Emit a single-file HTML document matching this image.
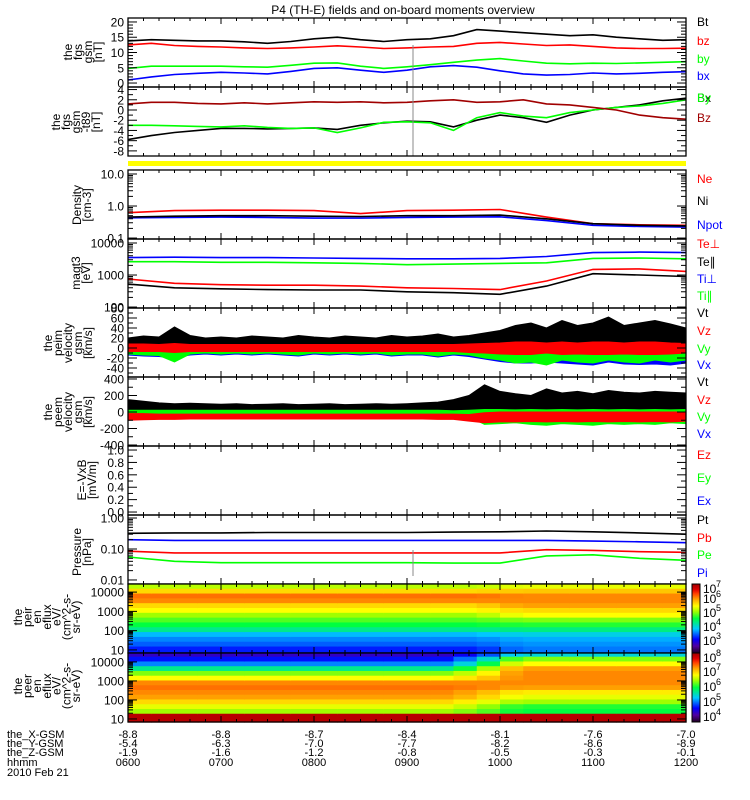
<!DOCTYPE html>
<html><head><meta charset="utf-8"><style>
html,body{margin:0;padding:0;background:#fff;}
svg{display:block;font-family:"Liberation Sans",sans-serif;}
</style></head><body>
<svg id="fig" width="750" height="800" viewBox="0 0 750 800" xmlns="http://www.w3.org/2000/svg">
<defs>
<linearGradient id="cbar" x1="0" y1="1" x2="0" y2="0">
<stop offset="0" stop-color="#200020"/><stop offset="0.1" stop-color="#5000a0"/><stop offset="0.2" stop-color="#0000ff"/><stop offset="0.35" stop-color="#00c8ff"/><stop offset="0.5" stop-color="#00ff40"/><stop offset="0.6" stop-color="#a0ff00"/><stop offset="0.68" stop-color="#ffff00"/><stop offset="0.78" stop-color="#ffa000"/><stop offset="0.86" stop-color="#ff4000"/><stop offset="0.92" stop-color="#e00000"/><stop offset="1" stop-color="#a00000"/>
</linearGradient>
</defs>
<text x="403" y="14" text-anchor="middle" font-size="12">P4 (TH-E) fields and on-board moments overview</text>
<g id="layer"></g>
</svg>
<script>
// ---------- data ----------
const t15 = [6,6.25,6.5,6.75,7,7.25,7.5,7.75,8,8.25,8.5,8.75,9,9.25,9.5,9.75,10,10.25,10.5,10.75,11,11.25,11.5,11.75,12];
const t30 = [6,6.5,7,7.5,8,8.5,9,9.5,10,10.5,11,11.5,12];
const t10 = [6,6.1667,6.3333,6.5,6.6667,6.8333,7,7.1667,7.3333,7.5,7.6667,7.8333,8,8.1667,8.3333,8.5,8.6667,8.8333,9,9.1667,9.3333,9.5,9.6667,9.8333,10,10.1667,10.3333,10.5,10.6667,10.8333,11,11.1667,11.3333,11.5,11.6667,11.8333,12];
// panel 1 fgs gsm
const fgsBt = [13.8,14.2,14,13.8,13.8,13.5,13,13.6,14.5,15,14.2,13.6,14.2,14.5,15.5,17.5,17,16.5,16,15.5,15.8,15,14.5,14,14.2];
const fgsBz = [12.5,13,12.3,12,11.8,11.5,11.3,11.5,11.8,12.2,11.8,11.3,11.5,11.8,12,13,13.3,12.8,12.3,12.5,12,11.5,11.3,11.3,11.4];
const fgsBy = [4.8,5.5,5.5,5.5,5.5,5.3,5.2,5.8,6.5,6.6,5.5,4.8,5.3,6,6.8,7.5,8,7.2,6.5,6.3,6.5,6.4,6.6,6.8,7];
const fgsBx = [1,2,2.8,3.2,3.5,3.3,3,3.8,4.8,5,4.2,3.5,4.2,5.3,5.7,5.2,4,3,2.6,2.8,3.3,3,3.2,3.5,3.7];
// panel 2 fgs - t89
const dBz = [1.2,1.5,1.5,1.3,1.2,1.4,1.2,1.4,1.6,1.5,1.6,1.4,1.5,1.8,2,1.5,1.6,2,1.2,1,0.5,0,-1,-1.5,-1.8];
const dBy = [-3,-3,-3.1,-3.2,-3.3,-3.1,-3.4,-3.6,-3.5,-4.4,-3.5,-2.4,-2.3,-2.5,-4,-1.5,-0.5,-1.2,-1.5,-0.5,0,0.5,0.8,1.3,2];
const dBx = [-5.8,-5,-4.4,-4,-3.6,-3.6,-3.7,-3.6,-3.5,-3.8,-3,-2.5,-2.2,-2.3,-3.3,-2,-1,-1.5,-2.4,-1,0,0.5,1,1.8,2.3];
// panel 3 density
const dnNe = [0.62,0.72,0.74,0.74,0.72,0.58,0.72,0.74,0.78,0.45,0.28,0.26,0.25];
const dnNi = [0.45,0.48,0.5,0.5,0.48,0.47,0.5,0.5,0.52,0.4,0.28,0.25,0.24];
const dnNpot = [0.43,0.44,0.45,0.44,0.42,0.42,0.44,0.45,0.46,0.35,0.25,0.23,0.22];
// panel 4 temperatures
const tmTiPerp = [3500,3600,3500,3500,3400,3300,3200,3200,3300,3800,5000,5200,5000];
const tmTiPar = [2600,2600,2500,2500,2400,2300,2100,2200,2300,2400,3300,3400,3200];
const tmTePerp = [750,550,500,480,480,450,400,380,350,650,1500,1550,1300];
const tmTePar = [520,400,370,350,340,340,300,280,250,450,1100,1000,900];
// panel 5 peim velocity envelopes (km/s)
const viVtTop = [20,24,22,42,25,20,22,20,24,22,20,25,22,20,24,22,20,25,22,24,28,22,25,30,35,45,50,40,55,45,50,62,45,50,55,48,40];
const viRedHi = [8,8,7,9,7,7,7,7,7,7,7,7,7,7,7,7,7,7,7,7,7,7,8,9,10,12,12,10,12,10,12,12,10,12,12,10,9];
const viRedLo = [-7,-7,-7,-9,-7,-7,-7,-7,-7,-7,-7,-7,-7,-7,-7,-7,-7,-7,-7,-7,-7,-7,-9,-10,-12,-13,-13,-10,-13,-12,-13,-13,-12,-13,-13,-12,-10];
const viGreenLo = [-12,-14,-15,-28,-12,-10,-12,-10,-12,-10,-12,-14,-10,-12,-10,-12,-10,-14,-12,-12,-16,-12,-14,-20,-24,-30,-28,-34,-24,-28,-30,-24,-28,-30,-24,-28,-24];
const viBlueLo = [-14,-16,-17,-20,-14,-12,-14,-12,-14,-12,-14,-16,-12,-14,-12,-14,-12,-16,-14,-14,-18,-14,-17,-22,-27,-30,-30,-28,-30,-32,-34,-28,-32,-33,-32,-34,-30];
// panel 6 peem velocity envelopes (km/s)
const veVtTop = [150,130,110,100,105,100,95,100,90,95,100,90,95,100,90,95,100,95,100,110,120,150,200,330,250,220,200,280,230,250,220,260,240,230,250,240,230];
const veRedHi = [-20,-20,-25,-25,-25,-25,-25,-25,-25,-25,-25,-25,-25,-25,-25,-25,-25,-25,-25,-25,-25,-25,-30,-10,0,0,0,0,0,0,0,0,0,0,0,0,0];
const veRedLo = [-100,-95,-90,-90,-85,-85,-85,-85,-85,-85,-85,-85,-85,-85,-85,-85,-85,-85,-85,-85,-90,-90,-110,-130,-120,-120,-115,-120,-115,-120,-115,-120,-115,-120,-115,-120,-110];
const veGreenHi = [20,20,20,20,20,20,20,20,20,20,20,20,20,20,20,20,20,20,20,20,20,15,20,30,30,25,30,25,30,25,30,25,30,25,30,25,30];
const veGreenLo = [-20,-20,-20,-20,-20,-20,-20,-20,-20,-20,-20,-20,-20,-20,-20,-20,-20,-20,-20,-20,-20,-20,-60,-150,-140,-130,-150,-160,-140,-150,-160,-140,-150,-140,-150,-130,-140];
// panel 8 pressure
const prPt = [0.32,0.33,0.33,0.34,0.34,0.34,0.34,0.35,0.36,0.38,0.36,0.33,0.3];
const prPi = [0.2,0.19,0.19,0.19,0.19,0.19,0.19,0.19,0.19,0.19,0.18,0.17,0.16];
const prPb = [0.085,0.075,0.075,0.075,0.075,0.075,0.075,0.075,0.075,0.095,0.09,0.082,0.078];
const prPe = [0.055,0.04,0.036,0.036,0.036,0.036,0.036,0.035,0.035,0.06,0.065,0.05,0.043];
// spectrograms (normalized log eflux 0..1)
const ionLogE = [4.3,4.05,3.8,3.55,3.3,3.05,2.8,2.55,2.3,2.05,1.8,1.55,1.3,1.05];
const ionEarly = [0.62,0.72,0.82,0.8,0.72,0.68,0.6,0.55,0.5,0.44,0.34,0.3,0.27,0.22];
const ionLate = [0.66,0.74,0.8,0.8,0.78,0.72,0.68,0.58,0.52,0.45,0.37,0.33,0.31,0.29];
const ionMix = [0,0,0,0,0,0,0,0,0,0,0,0,0,0,0,0.3,0.8,1,1,1,1,1,1,1];
const eleLogE = [4.4,4.15,3.9,3.65,3.4,3.15,2.9,2.65,2.4,2.15,1.9,1.65,1.4,1.15,0.9];
const eleEarly = [0.14,0.21,0.3,0.44,0.58,0.68,0.8,0.82,0.8,0.78,0.72,0.66,0.6,0.97,0.97];
const eleLate = [0.38,0.58,0.68,0.78,0.8,0.8,0.8,0.78,0.7,0.66,0.6,0.52,0.5,0.97,0.97];
const eleMix = [0,0,0,0,0,0,0,0,0,0,0,0,0,0,0.2,0.5,0.9,1,1,1,1,1,1,1];
// bottom orbit labels
const hhmm = ["0600","0700","0800","0900","1000","1100","1200"];
const posX = ["-8.8","-8.8","-8.7","-8.4","-8.1","-7.6","-7.0"];
const posY = ["-5.4","-6.3","-7.0","-7.7","-8.2","-8.6","-8.9"];
const posZ = ["-1.9","-1.6","-1.2","-0.8","-0.5","-0.3","-0.1"];

// ---------- helpers ----------
const NS="http://www.w3.org/2000/svg";
const L=document.getElementById('layer');
const X0=128,X1=686;
function xs(t){return X0+(t-6)/6*(X1-X0);}
function mk(tag,attrs,parent){const e=document.createElementNS(NS,tag);for(const k in attrs)e.setAttribute(k,attrs[k]);(parent||L).appendChild(e);return e;}
function lin(top,bot,min,max){return v=>bot-(v-min)/(max-min)*(bot-top);}
function lg(top,bot,min,max){return v=>bot-(Math.log10(v)-min)/(max-min)*(bot-top);}
const cstops=[[0,[32,0,32]],[0.1,[80,0,160]],[0.2,[0,0,255]],[0.35,[0,200,255]],[0.5,[0,255,64]],[0.6,[160,255,0]],[0.68,[255,255,0]],[0.78,[255,160,0]],[0.86,[255,64,0]],[0.92,[224,0,0]],[1,[160,0,0]]];
function cmap(v){v=Math.max(0,Math.min(1,v));for(let i=1;i<cstops.length;i++){if(v<=cstops[i][0]){const a=cstops[i-1],b=cstops[i],f=(v-a[0])/(b[0]-a[0]);const c=a[1].map((x,j)=>Math.round(x+(b[1][j]-x)*f));return 'rgb('+c.join(',')+')';}}return 'rgb(160,0,0)';}

function line(ts,vals,ym,color,name,w){
  const p=ts.map((t,i)=>xs(t).toFixed(1)+','+ym(vals[i]).toFixed(1)).join(' ');
  const e=mk('polyline',{points:p,fill:'none',stroke:color,'stroke-width':w||1.6});
  
  
}
function band(ts,hi,lo,ym,color,name){
  const up=ts.map((t,i)=>xs(t).toFixed(1)+','+ym(hi[i]).toFixed(1));
  const dn=ts.map((t,i)=>xs(t).toFixed(1)+','+ym(lo[i]).toFixed(1)).reverse();
  const e=mk('polygon',{points:up.concat(dn).join(' '),fill:color,stroke:color,'stroke-width':1});
  
  
}
function zeros(n,v){return Array(n).fill(v);}

function frame(top,bot,name){
  const g=mk('g',{});
  
  
  mk('rect',{x:X0,y:top,width:X1-X0,height:bot-top,fill:'none',stroke:'#000','stroke-width':1.3},g);
  for(let m=0;m<=36;m++){
    const x=X0+m*(X1-X0)/36,len=(m%6==0)?6:3;
    mk('line',{x1:x,y1:top,x2:x,y2:top+len,stroke:'#000'},g);
    mk('line',{x1:x,y1:bot,x2:x,y2:bot-len,stroke:'#000'},g);
  }
  return g;
}
function yTicks(g,ym,ticks,labels,minor){
  ticks.forEach((v,i)=>{
    const y=ym(v);
    mk('line',{x1:X0,y1:y,x2:X0+9,y2:y,stroke:'#000'},g);
    mk('line',{x1:X1,y1:y,x2:X1-9,y2:y,stroke:'#000'},g);
    const t=mk('text',{x:124,y:y+4.5,'text-anchor':'end','font-size':12},g);t.textContent=labels[i];
  });
  (minor||[]).forEach(v=>{const y=ym(v);
    mk('line',{x1:X0,y1:y,x2:X0+5,y2:y,stroke:'#000'},g);
    mk('line',{x1:X1,y1:y,x2:X1-5,y2:y,stroke:'#000'},g);});
}
function logMinor(a,b){const r=[];for(let d=a;d<b;d++)for(let k=2;k<10;k++)r.push(k*Math.pow(10,d));return r;}
function ytitle(lines,cy,lastX,sp,name){
  const g=mk('g',{});
  
  
  lines.forEach((s,i)=>{const x=lastX-(lines.length-1-i)*sp;
    const t=mk('text',{x:x,y:cy,'text-anchor':'middle','font-size':12,transform:'rotate(-90 '+x+' '+cy+')'},g);t.textContent=s;});
}
function legend(txt,y,color,name){
  const t=mk('text',{x:697,y:y+4,'font-size':12,fill:color});t.textContent=txt;
  
  
}

// ---------- panel 1 ----------
let ym=lin(18,87,-1.3,21.3);
line(t15,fgsBt,ym,'#000','series-bt');line(t15,fgsBz,ym,'#ff0000','series-bz');line(t15,fgsBy,ym,'#00ff00','series-by');line(t15,fgsBx,ym,'#0000ff','series-bx');
let g=frame(18,87,'panel-fgs-gsm');yTicks(g,ym,[0,5,10,15,20],['0','5','10','15','20'],[1,2,3,4,6,7,8,9,11,12,13,14,16,17,18,19]);
ytitle(['the','fgs','gsm','[nT]'],52,102,10,'y-title-fgs');
legend('Bt',22,'#000','legend-bt');legend('bz',41,'#ff0000','legend-bz');legend('by',59,'#00ff00','legend-by');legend('bx',76,'#0000ff','legend-bx');
// panel 2
ym=lin(87,156,-9,4.5);
line(t15,dBx,ym,'#000','series-dbx');line(t15,dBy,ym,'#00ff00','series-dby');line(t15,dBz,ym,'#a00000','series-dbz');
mk('line',{x1:413,y1:45,x2:413,y2:156,stroke:'#888','stroke-width':1});
g=frame(87,156,'panel-fgs-t89');yTicks(g,ym,[-8,-6,-4,-2,0,2,4],['-8','-6','-4','-2','0','2','4'],[-7,-5,-3,-1,1,3]);
ytitle(['the','fgs','gsm','-t89','[nT]'],122,100,10,'y-title-t89');
legend('Bx',98,'#000','legend-bx-t89');legend('By',98,'#00ff00','legend-by-t89');legend('Bz',118,'#a00000','legend-bz-t89');
// yellow bar
const yb=mk('rect',{x:X0,y:161,width:X1-X0,height:5,fill:'#ffff00'});

// panel 3
ym=lg(170,239,-1.03,1.125);
line(t30,dnNe,ym,'#ff0000','series-ne');line(t30,dnNpot,ym,'#0000ff','series-npot');line(t30,dnNi,ym,'#000','series-ni');
g=frame(170,239,'panel-density');yTicks(g,ym,[0.1,1,10],['0.1','1.0','10.0'],logMinor(-1,1));
ytitle(['Density','[cm-3]'],205,91,10,'y-title-density');
legend('Ne',179,'#ff0000','legend-ne');legend('Ni',201,'#000','legend-ni');legend('Npot',225,'#0000ff','legend-npot');
// panel 4
ym=lg(239,308,1.97,4.125);
line(t30,tmTiPerp,ym,'#0000ff','series-ti-perp');line(t30,tmTiPar,ym,'#00ff00','series-ti-par');line(t30,tmTePerp,ym,'#ff0000','series-te-perp');line(t30,tmTePar,ym,'#000','series-te-par');
g=frame(239,308,'panel-temperature');yTicks(g,ym,[100,1000,10000],['100','1000','10000'],logMinor(2,4));
ytitle(['magt3','[eV]'],273,90,10,'y-title-temperature');
legend('Te\u22a5',244,'#ff0000','legend-te-perp');legend('Te\u2225',262,'#000','legend-te-par');legend('Ti\u22a5',279,'#0000ff','legend-ti-perp');legend('Ti\u2225',296,'#00ff00','legend-ti-par');
// panel 5
ym=lin(308,377,-58,80);
band(t10,viVtTop,zeros(37,0),ym,'#000','series-vt-ion');
band(t10,zeros(37,0),viBlueLo,ym,'#0000ff','series-vx-ion');
band(t10,zeros(37,0),viGreenLo,ym,'#00ff00','series-vy-ion');
band(t10,viRedHi,viRedLo,ym,'#ff0000','series-vz-ion');
g=frame(308,377,'panel-ion-velocity');yTicks(g,ym,[-40,-20,0,20,40,60,80],['-40','-20','0','20','40','60','80'],[-50,-30,-10,10,30,50,70]);
ytitle(['the','peim','velocity','gsm','[km/s]'],343,92,10,'y-title-ion-velocity');
legend('Vt',313,'#000','legend-vt-ion');legend('Vz',331,'#ff0000','legend-vz-ion');legend('Vy',349,'#00ff00','legend-vy-ion');legend('Vx',365,'#0000ff','legend-vx-ion');
// panel 6
ym=lin(377,446,-412,424);
band(t10,veVtTop,zeros(37,0),ym,'#000','series-vt-ele');
band(t10,veGreenHi,veGreenLo,ym,'#00ff00','series-vy-ele');
band(t10,veRedHi,veRedLo,ym,'#ff0000','series-vz-ele');
g=frame(377,446,'panel-electron-velocity');yTicks(g,ym,[-400,-200,0,200,400],['-400','-200','0','200','400'],[-300,-100,100,300]);
ytitle(['the','peem','velocity','gsm','[km/s]'],412,92,10,'y-title-electron-velocity');
legend('Vt',382,'#000','legend-vt-ele');legend('Vz',400,'#ff0000','legend-vz-ele');legend('Vy',417,'#00ff00','legend-vy-ele');legend('Vx',434,'#0000ff','legend-vx-ele');
// panel 7
ym=lin(446,515,-0.048,1.065);
g=frame(446,515,'panel-e-field');yTicks(g,ym,[0,0.2,0.4,0.6,0.8,1],['0.0','0.2','0.4','0.6','0.8','1.0'],[0.1,0.3,0.5,0.7,0.9]);
ytitle(['E=-VxB','[mV/m]'],480,96,10,'y-title-e-field');
legend('Ez',455,'#ff0000','legend-ez');legend('Ey',478,'#00ff00','legend-ey');legend('Ex',501,'#0000ff','legend-ex');
// panel 8
ym=lg(515,584,-2.13,0.097);
line(t30,prPt,ym,'#000','series-pt');line(t30,prPi,ym,'#0000ff','series-pi');line(t30,prPb,ym,'#ff0000','series-pb');line(t30,prPe,ym,'#00ff00','series-pe');
mk('line',{x1:413,y1:550,x2:413,y2:576,stroke:'#888','stroke-width':1});
g=frame(515,584,'panel-pressure');yTicks(g,ym,[0.01,0.1,1],['0.01','0.10','1.00'],logMinor(-2,0));
ytitle(['Pressure','[nPa]'],552,91,10,'y-title-pressure');
legend('Pt',520,'#000','legend-pt');legend('Pb',538,'#ff0000','legend-pb');legend('Pe',555,'#00ff00','legend-pe');legend('Pi',573,'#0000ff','legend-pi');

// spectrograms
function spec(top,bot,logTop,logBot,logE,early,late,mix,name){
  const gg=mk('g',{});
  
  
  const yl=v=>top+(logTop-v)/(logTop-logBot)*(bot-top);
  const n=mix.length,cw=(X1-X0)/n;
  for(let c=0;c<n;c++){
    for(let r=0;r<logE.length;r++){
      const a=r==0?logTop:(logE[r-1]+logE[r])/2, b=r==logE.length-1?logBot:(logE[r]+logE[r+1])/2;
      const v=early[r]*(1-mix[c])+late[r]*mix[c];
      const y1=Math.max(top,yl(a)),y2=Math.min(bot,yl(b));
      mk('rect',{x:(X0+c*cw).toFixed(2),y:y1.toFixed(2),width:(cw+0.6).toFixed(2),height:(y2-y1+0.6).toFixed(2),fill:cmap(v)},gg);
    }
  }
  return yl;
}
let yl=spec(584,653,4.42,0.84,ionLogE,ionEarly,ionLate,ionMix,'ion-spectrogram');
g=frame(584,653,'panel-ion-spectrogram');yTicks(g,v=>yl(Math.log10(v)),[10,100,1000,10000],['10','100','1000','10000'],logMinor(1,4));
ytitle(['the','peir','en','eflux','eV/','(cm^2-s-','sr-eV)'],617,80,9.7,'y-title-ion-eflux');
yl=spec(653,722,4.47,0.84,eleLogE,eleEarly,eleLate,eleMix,'electron-spectrogram');
g=frame(653,722,'panel-electron-spectrogram');yTicks(g,v=>yl(Math.log10(v)),[10,100,1000,10000],['10','100','1000','10000'],logMinor(1,4));
ytitle(['the','peer','en','eflux','eV/','(cm^2-s-','sr-eV)'],686,80,9.7,'y-title-electron-eflux');
// colorbars
function cbar(top,bot,exps,ys,name){
  const gg=mk('g',{});
  
  
  mk('rect',{x:692,y:top,width:8,height:bot-top,fill:'url(#cbar)',stroke:'#000','stroke-width':1},gg);
  exps.forEach((e,i)=>{const t=mk('text',{x:703,y:ys[i]+4,'font-size':12},gg);t.textContent='10';
    const s=mk('text',{x:716,y:ys[i]-2,'font-size':9},gg);s.textContent=e;});
}
cbar(584,653,['7','6','5','4','3'],[589,599,613,627,641],'ion-colorbar');
cbar(653,722,['8','7','6','5','4'],[658,672,687,702,717],'electron-colorbar');
// bottom labels
const rows=[['the_X-GSM',posX,734],['the_Y-GSM',posY,743],['the_Z-GSM',posZ,752],['hhmm',hhmm,762]];
rows.forEach(r=>{
  const t=mk('text',{x:7,y:r[2]+4,'font-size':11});t.textContent=r[0];
  
  r[1].forEach((s,i)=>{const tt=mk('text',{x:X0+i*(X1-X0)/6,y:r[2]+4,'font-size':11,'text-anchor':'middle'});tt.textContent=s;
    });
});
const dt=mk('text',{x:7,y:776,'font-size':11});dt.textContent='2010 Feb 21';

</script>
</body></html>
